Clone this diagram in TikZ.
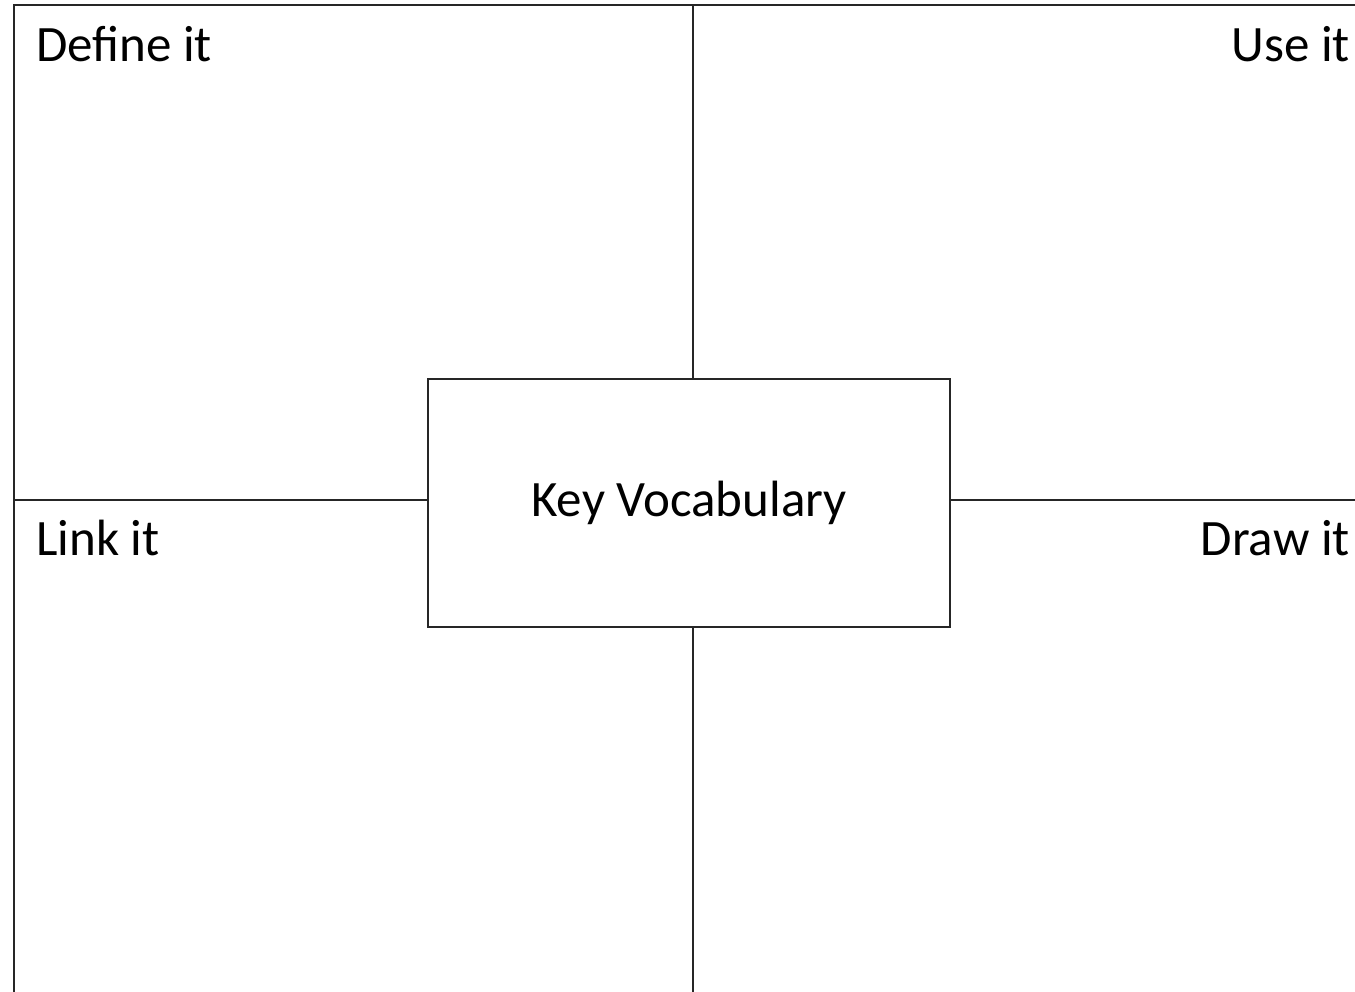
\documentclass[tikz,border=0pt]{standalone}
\usepackage{fontspec}
\setmainfont{Carlito}
\begin{document}
\begin{tikzpicture}[x=1pt,y=-1pt,
  rule/.style={draw=black!85,line width=2pt},
  lbl/.style={inner sep=0pt,font=\fontsize{51}{61}\selectfont}]
\useasboundingbox[fill=white] (0,0) rectangle (1355,992);
\node[rule,minimum width=522pt,minimum height=248pt,inner sep=0pt,anchor=north west] (key) at (427,378) {};
\node[lbl] (kv) at (key.center) {Key Vocabulary};
\coordinate (tl) at (14,5);
\coordinate (tr) at (1355,5);
\coordinate (bl) at (14,992);
\coordinate (topmid) at (693,5);
\coordinate (botmid) at (693,992);
\coordinate (lmid) at (14,500);
\coordinate (rmid) at (1355,500);
\draw[rule] (bl) -- (tl) -- (tr);
\draw[rule] (topmid) -- (topmid |- key.north);
\draw[rule] (botmid) -- (botmid |- key.south);
\draw[rule] (lmid) -- (lmid -| key.west);
\draw[rule] (rmid) -- (rmid -| key.east);
\node[lbl,anchor=base west] (def) at (36,62) {Define it};
\node[lbl,anchor=base east] (use) at (1350,62) {Use it};
\node[lbl,anchor=base west] (link) at (36,555) {Link it};
\node[lbl,anchor=base east] (draw) at (1350,555) {Draw it};
\end{tikzpicture}
\end{document}
